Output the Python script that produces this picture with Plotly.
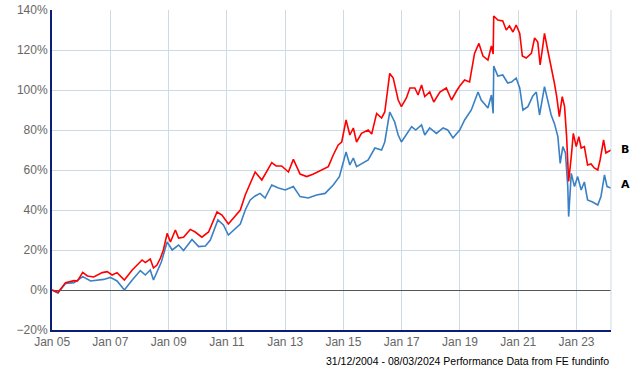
import plotly.graph_objects as go
import pandas as pd

# Decimal-year time stamps and cumulative performance (%)
b_years = [2004.997, 2005.20, 2005.46, 2005.75, 2005.87, 2006.05, 2006.21, 2006.43, 2006.72, 2006.89,
           2007.06, 2007.23, 2007.48, 2007.75, 2008.09, 2008.20, 2008.37, 2008.48, 2008.60, 2008.72,
           2008.82, 2008.95, 2009.06, 2009.23, 2009.34, 2009.51, 2009.74, 2009.91, 2010.14, 2010.37,
           2010.66, 2010.83, 2011.05, 2011.23, 2011.46, 2011.63, 2011.80, 2011.97, 2012.20, 2012.37,
           2012.54, 2012.69, 2012.88, 2013.11, 2013.28, 2013.51, 2013.74, 2013.97, 2014.25, 2014.48,
           2014.65, 2014.82, 2014.94, 2015.09, 2015.22, 2015.34, 2015.45, 2015.62, 2015.85, 2015.97,
           2016.14, 2016.31, 2016.42, 2016.59, 2016.71, 2016.88, 2016.99, 2017.16, 2017.28, 2017.45,
           2017.56, 2017.68, 2017.79, 2017.96, 2018.10, 2018.31, 2018.53, 2018.71, 2018.88, 2018.99,
           2019.16, 2019.33, 2019.50, 2019.65, 2019.79, 2019.96, 2020.08, 2020.14, 2020.16, 2020.30,
           2020.47, 2020.59, 2020.70, 2020.82, 2020.93, 2021.05, 2021.14, 2021.27, 2021.45, 2021.56,
           2021.67, 2021.75, 2021.84, 2021.90, 2022.01, 2022.13, 2022.24, 2022.32, 2022.41, 2022.51,
           2022.59, 2022.66, 2022.73, 2022.82, 2022.89, 2022.99, 2023.08, 2023.16, 2023.27, 2023.38,
           2023.50, 2023.61, 2023.73, 2023.81, 2023.93, 2024.01, 2024.185]
b_values = [0, -1.3, 3.7, 4.7, 4.5, 8.8, 7, 6.5, 8.7, 9.2,
            7.5, 8.7, 5, 10, 15, 13.7, 15.5, 11, 12.5, 16,
            20, 28.3, 24, 30, 26, 26.4, 30.3, 29, 26.4, 29,
            39, 37.5, 33, 36, 40, 47.5, 53, 59, 55, 59,
            63.7, 62, 62, 59, 65.3, 58, 56.7, 58, 60, 61.7,
            67.5, 72.5, 74, 85, 77.5, 81, 74, 78.3, 80, 78,
            88.3, 86, 89, 108.3, 106, 95, 91.7, 96, 101, 101,
            97.5, 102.5, 96.7, 99, 94, 99, 101, 95, 99.5, 102,
            105, 104, 118.3, 123.3, 117, 115, 122, 118, 137, 135,
            134.5, 130, 132, 129, 132.5, 128.3, 117, 116, 118.3, 126,
            124, 112.5, 121.7, 128.3, 120, 112, 103.5, 96.7, 86.7, 96.7,
            91.7, 76.7, 54.3, 66.7, 78.3, 71.7, 76.7, 71, 71.7, 62.5,
            63, 61, 60, 65, 75, 68.5, 70]

a_years = [2004.997, 2005.20, 2005.46, 2005.75, 2006.05, 2006.32, 2006.77, 2007.00, 2007.23, 2007.48,
           2007.75, 2008.03, 2008.20, 2008.37, 2008.48, 2008.61, 2008.75, 2008.95, 2009.12, 2009.34,
           2009.51, 2009.80, 2010.03, 2010.26, 2010.43, 2010.69, 2010.88, 2011.05, 2011.28, 2011.46,
           2011.63, 2011.80, 2011.97, 2012.14, 2012.31, 2012.54, 2012.77, 2013.00, 2013.28, 2013.51,
           2013.79, 2014.08, 2014.37, 2014.65, 2014.86, 2015.09, 2015.22, 2015.34, 2015.45, 2015.63,
           2015.85, 2016.08, 2016.31, 2016.42, 2016.59, 2016.76, 2016.88, 2016.99, 2017.16, 2017.34,
           2017.48, 2017.68, 2017.79, 2017.96, 2018.19, 2018.42, 2018.58, 2018.76, 2018.99, 2019.16,
           2019.39, 2019.62, 2019.73, 2019.96, 2020.08, 2020.14, 2020.16, 2020.30, 2020.47, 2020.64,
           2020.77, 2020.93, 2021.05, 2021.16, 2021.33, 2021.50, 2021.62, 2021.73, 2021.90, 2022.01,
           2022.13, 2022.24, 2022.36, 2022.44, 2022.53, 2022.62, 2022.70, 2022.73, 2022.82, 2022.93,
           2023.04, 2023.16, 2023.27, 2023.38, 2023.55, 2023.73, 2023.84, 2023.96, 2024.05, 2024.185]
a_values = [0, -1.5, 3.3, 3.7, 6.7, 4.5, 5.3, 6.3, 4.5, 0,
            5, 9.7, 7.5, 10, 5, 9, 14, 24, 20, 22.5,
            19.7, 25.3, 21.7, 22, 25, 35, 32.5, 27.5, 30.8, 33,
            40, 45, 47, 48.3, 46, 52.5, 51, 50, 51.7, 46.7,
            46, 47.5, 48.3, 52.5, 56.7, 69, 62.5, 66, 61.7, 63,
            65, 71, 70, 74, 89, 84, 77.5, 74, 78, 81.7,
            80, 82.5, 77.5, 81, 78.3, 81, 80, 76, 80, 85,
            90, 99, 95, 91, 97.5, 88.3, 112, 107, 107.5, 103.5,
            104, 106, 101, 90, 91.7, 97, 99, 87.5, 101.7, 95,
            87.5, 83.3, 76.7, 63.3, 71.7, 68.5, 51.7, 36.7, 58.3, 51.7,
            56.7, 50, 54, 45, 44, 42.5, 46.7, 57.5, 51.7, 51]

series_names = ["B", "A"]
series_colors = ["#ff0000", "#3a80c4"]
footnote = "31/12/2004 - 08/03/2024 Performance Data from FE fundinfo"


def to_dates(years):
    out = []
    for y in years:
        yr = int(y)
        start = pd.Timestamp(year=yr, month=1, day=1)
        out.append(start + pd.Timedelta(days=(y - yr) * 365.25))
    return out


b_dates = to_dates(b_years)
a_dates = to_dates(a_years)

fig = go.Figure()
fig.add_trace(go.Scatter(x=a_dates, y=a_values, mode="lines", name=series_names[1],
                         line=dict(color=series_colors[1], width=1.6)))
fig.add_trace(go.Scatter(x=b_dates, y=b_values, mode="lines", name=series_names[0],
                         line=dict(color=series_colors[0], width=1.6)))

fig.add_annotation(x=b_dates[-1], y=b_values[-1], text="<b>B</b>", showarrow=False,
                   xanchor="left", yanchor="middle", xshift=8, yshift=1,
                   font=dict(family="Verdana, DejaVu Sans", size=11, color="black"))
fig.add_annotation(x=a_dates[-1], y=a_values[-1], text="<b>A</b>", showarrow=False,
                   xanchor="left", yanchor="middle", xshift=8, yshift=4,
                   font=dict(family="Verdana, DejaVu Sans", size=11, color="black"))
fig.add_annotation(x=1, y=0, xref="paper", yref="paper", text=footnote, showarrow=False,
                   xanchor="right", yanchor="top", yshift=-23,
                   font=dict(family="Liberation Sans, Arial", size=10.5, color="black"))

# right border of plot area
fig.add_shape(type="line", xref="paper", yref="paper", x0=1, x1=1, y0=0, y1=1,
              line=dict(color="#cddbe6", width=1))

fig.update_layout(
    width=640, height=370,
    margin=dict(l=52, r=29, t=10, b=40, autoexpand=False),
    paper_bgcolor="white", plot_bgcolor="white",
    showlegend=False,
    font=dict(family="Liberation Sans, Arial", size=12, color="#666666"),
)
fig.update_xaxes(
    type="date", automargin=False,
    range=[b_dates[0], b_dates[-1]],
    tick0="2005-01-01", dtick="M24", tickformat="%b %y",
    showgrid=True, gridcolor="#cddbe6", gridwidth=1,
    showline=True, linecolor="#0a1e78", linewidth=2,
    ticks="", tickfont=dict(size=12, color="#666666"),
)
fig.update_yaxes(
    automargin=False,
    range=[-20, 140], dtick=20, ticksuffix="%",
    showgrid=True, gridcolor="#cddbe6", gridwidth=1,
    showline=True, linecolor="#0a1e78", linewidth=2,
    zeroline=True, zerolinecolor="#555555", zerolinewidth=1,
    ticks="", tickfont=dict(size=12, color="#666666"),
)

fig.write_html("out.html", config={"displayModeBar": False},
               post_script="document.body.style.margin='0';document.body.style.overflow='hidden';")
